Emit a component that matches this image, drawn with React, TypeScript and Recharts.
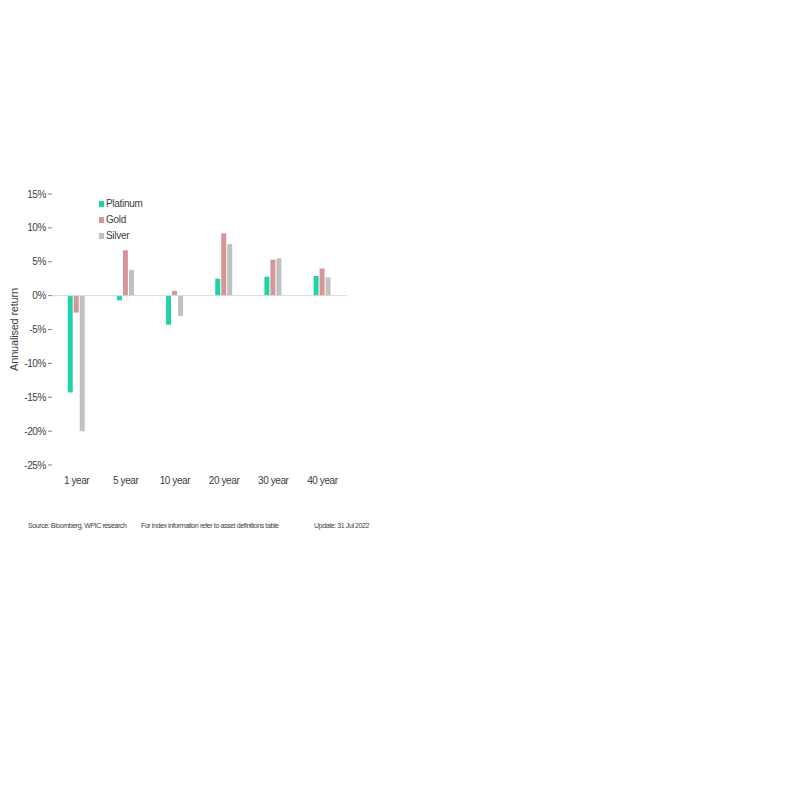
import React from 'react';
import { BarChart, Bar, XAxis, YAxis, ReferenceLine, Label } from 'recharts';

const periods = ['1 year', '5 year', '10 year', '20 year', '30 year', '40 year'];
const platinum = [-14.3, -0.7, -4.3, 2.5, 2.8, 2.9];
const gold = [-2.5, 6.7, 0.7, 9.2, 5.3, 4.0];
const silver = [-20.0, 3.8, -3.0, 7.6, 5.5, 2.7];
const yTicks = [15, 10, 5, 0, -5, -10, -15, -20, -25];

const series = [
  { key: 'Platinum', color: '#1ed3aa' },
  { key: 'Gold', color: '#d49696' },
  { key: 'Silver', color: '#c0c0c0' },
];

const data = periods.map((p, i) => ({
  period: p,
  Platinum: platinum[i],
  Gold: gold[i],
  Silver: silver[i],
}));

const FONT = '"Liberation Sans", Arial, sans-serif';
const tickStyle = { fill: '#404040', fontSize: 10, fontFamily: FONT, letterSpacing: -0.4 };

export default function App() {
  return (
    <div style={{ position: 'absolute', left: 0, top: 0, width: 800, height: 800, background: '#fff' }}>
      <div style={{ position: 'absolute', left: 0, top: 180 }}>
        <BarChart
          width={360}
          height={320}
          data={data}
          margin={{ top: 14, right: 13, left: 0, bottom: 0 }}
          barCategoryGap="32%"
          barGap={1}
        >
          <XAxis
            dataKey="period"
            interval={0}
            axisLine={false}
            tickLine={false}
            height={35}
            tick={tickStyle}
            tickMargin={6}
          />
          <YAxis
            width={52}
            domain={[-25, 15]}
            ticks={yTicks}
            interval={0}
            axisLine={false}
            tickSize={4}
            tickLine={{ stroke: '#808080' }}
            tickFormatter={(v) => `${v}%`}
            tick={tickStyle}
          >
            <Label
              value="Annualised return"
              angle={-90}
              position="insideLeft"
              offset={14}
              style={{ fill: '#404040', fontSize: 11, fontFamily: FONT, textAnchor: 'middle', letterSpacing: -0.2 }}
            />
          </YAxis>
          <ReferenceLine y={0} stroke="#d9d9d9" />
          {series.map((s) => (
            <Bar key={s.key} dataKey={s.key} fill={s.color} isAnimationActive={false} />
          ))}
        </BarChart>
      </div>
      <div
        style={{
          position: 'absolute',
          left: 99,
          top: 196,
          fontFamily: FONT,
          fontSize: 10,
          letterSpacing: -0.3,
          color: '#404040',
          lineHeight: '16px',
        }}
      >
        {series.map((s) => (
          <div key={s.key} style={{ display: 'flex', alignItems: 'center' }}>
            <span style={{ width: 5, height: 6, background: s.color, marginRight: 2, display: 'inline-block' }} />
            {s.key}
          </div>
        ))}
      </div>
      <div
        style={{
          position: 'absolute',
          top: 522,
          left: 28,
          width: 360,
          fontFamily: FONT,
          fontSize: 7,
          letterSpacing: -0.4,
          color: '#404040',
          whiteSpace: 'nowrap',
        }}
      >
        <span style={{ position: 'absolute', left: 0 }}>Source: Bloomberg, WPIC research</span>
        <span style={{ position: 'absolute', left: 113 }}>For index information refer to asset definitions table</span>
        <span style={{ position: 'absolute', left: 286 }}>Update: 31 Jul 2022</span>
      </div>
    </div>
  );
}
